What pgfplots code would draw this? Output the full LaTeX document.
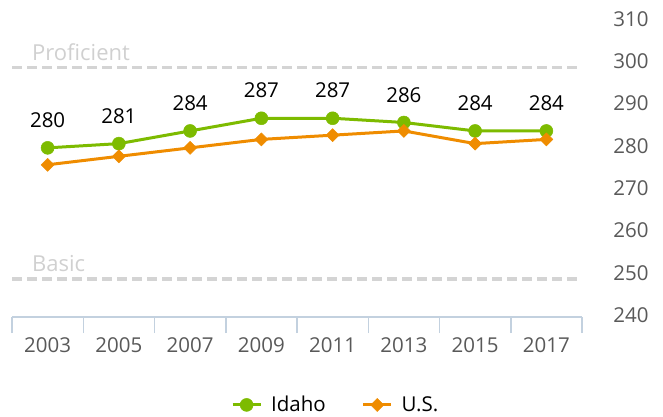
\documentclass[border=0pt]{standalone}
\usepackage{fontspec}
\setmainfont{Open Sans}
\usepackage{pgfplots}
\pgfplotsset{compat=1.18}
\definecolor{idaho}{HTML}{7DBB00}
\definecolor{usc}{HTML}{EF8C00}
\definecolor{refgray}{HTML}{D4D4D4}
\definecolor{reftext}{HTML}{D0D0D0}
\definecolor{axisblue}{HTML}{C3D1DF}
\definecolor{ticklab}{HTML}{595959}
\newcommand\f{\fontsize{20.5bp}{24bp}\selectfont}
\newcommand\fr{\fontsize{22bp}{26bp}\selectfont}
\begin{document}
\begin{tikzpicture}
\path[use as bounding box] (0,0) rectangle (663bp,417bp);
\begin{axis}[
  at={(12bp,100bp)}, anchor=south west,
  scale only axis, width=570bp, height=296bp,
  xmin=-0.5, xmax=7.5, ymin=240, ymax=310,
  axis x line=bottom, axis y line=right,
  x axis line style={draw=axisblue, line width=1.5bp, -},
  y axis line style={draw=none},
  ytick={240,250,...,310},
  ytick style={draw=none},
  yticklabel style={anchor=west, inner sep=0pt, xshift=29bp, yshift=2bp, font=\f, text=ticklab},
  /pgf/number format/assume math mode=true,
  xtick={0,...,7},
  xticklabels={2003,2005,2007,2009,2011,2013,2015,2017},
  xtick style={draw=none},
  xticklabel style={anchor=north, inner sep=0pt, yshift=-18bp, font=\f, text=ticklab},
  extra x ticks={-0.5,0.5,1.5,2.5,3.5,4.5,5.5,6.5,7.5},
  extra x tick labels={},
  extra x tick style={xtick style={draw=axisblue, line width=1.5bp}, major tick length=16bp, tick align=outside},
  clip=false,
  legend style={at={(0.568,-0.297)}, anchor=center, draw=none, fill=none, font=\f,
    legend columns=2, /tikz/every even column/.append style={column sep=34bp},
    /tikz/every odd column/.append style={column sep=7bp}},
  legend image code/.code={\draw[mark repeat=2, mark phase=2] plot coordinates {(0bp,0bp) (14bp,0bp) (28bp,0bp)};},
]
\addplot[refgray, line width=3.5bp, dash pattern=on 10bp off 5bp, forget plot] coordinates {(-0.5,299) (7.5,299)};
\addplot[refgray, line width=3.5bp, dash pattern=on 10bp off 5bp, forget plot] coordinates {(-0.5,249) (7.5,249)};
\node[anchor=base west, inner sep=0pt, font=\fr, text=reftext] at (axis cs:-0.22,299) [yshift=7.5bp] {Proficient};
\node[anchor=base west, inner sep=0pt, font=\fr, text=reftext] at (axis cs:-0.22,249) [yshift=7bp] {Basic};
\addplot[idaho, line width=3bp, mark=*, mark size=6.5bp, mark options={solid, draw=idaho, fill=idaho, line width=0.5bp},
  nodes near coords, every node near coord/.style={anchor=south, inner sep=0pt, yshift=20bp, font=\f, text=black}]
  coordinates {(0,280) (1,281) (2,284) (3,287) (4,287) (5,286) (6,284) (7,284)};
\addlegendentry{Idaho}
\addplot[usc, line width=3bp, mark=square*, mark size=4.6bp, mark options={solid, rotate=45, draw=usc, fill=usc, line width=0.5bp}]
  coordinates {(0,276) (1,278) (2,280) (3,282) (4,283) (5,284) (6,281) (7,282)};
\addlegendentry{U.S.}
\end{axis}
\end{tikzpicture}
\end{document}
